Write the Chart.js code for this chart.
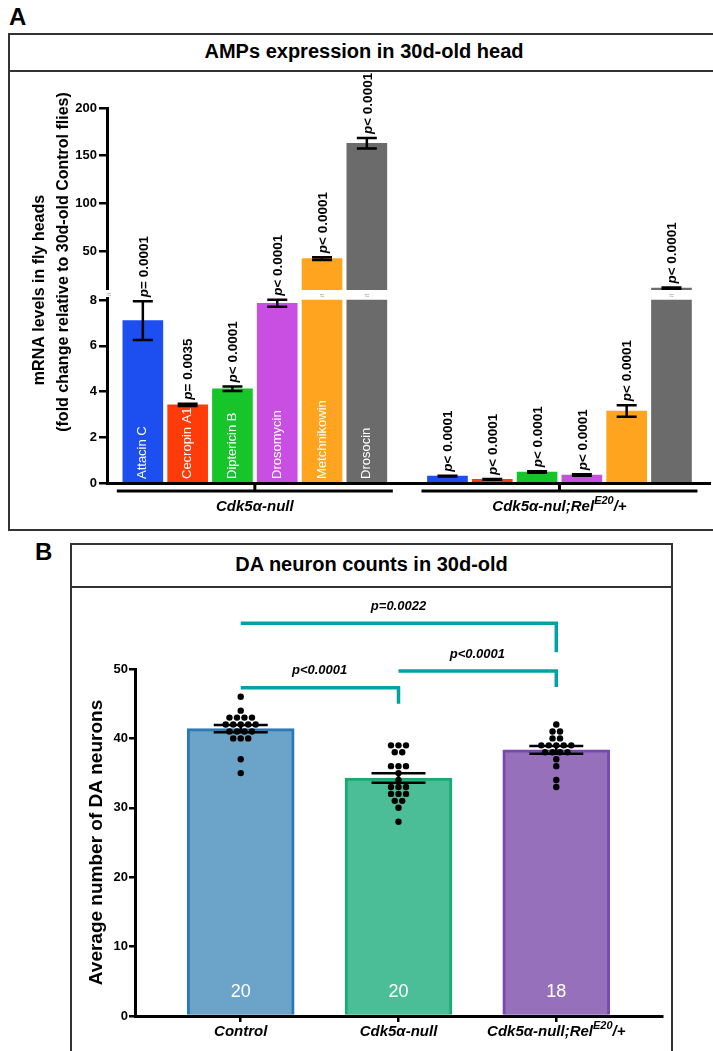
<!DOCTYPE html>
<html>
<head>
<meta charset="utf-8">
<script src="https://cdn.jsdelivr.net/npm/chart.js@4.4.0/dist/chart.umd.min.js"></script>
<style>
  body { margin: 0; width: 713px; height: 1051px; overflow: hidden; background: #fff; position: relative;
         font-family: "Liberation Sans", Arial, sans-serif; }
  .box { position: absolute; border: 2px solid #333; box-sizing: border-box; }
  .head { position: absolute; left: 0; right: 0; top: 0; border-bottom: 2px solid #333; text-align: center;
          font-weight: bold; font-size: 20px; }
  .letter { position: absolute; font-weight: bold; font-size: 24px; }
  canvas { position: absolute; }
</style>
</head>
<body>
<div class="letter" style="left:9px; top:3px;">A</div>
<div class="box" style="left:8px; top:33px; width:712px; height:498px;">
  <div class="head" style="height:35px; line-height:33px;">AMPs expression in 30d-old head</div>
</div>
<div class="letter" style="left:35px; top:538px;">B</div>
<div class="box" style="left:70px; top:543px; width:603px; height:530px;">
  <div class="head" style="height:41px; line-height:39px;">DA neuron counts in 30d-old</div>
</div>
<canvas id="ampChart" width="705" height="462" style="left:8px; top:68px;"></canvas>
<canvas id="daChart" width="602" height="467" style="left:70px; top:584px;"></canvas>

<script>
// ---------- panel A data ----------
const ampNames = ['Attacin C', 'Cecropin A1', 'Diptericin B', 'Drosomycin', 'Metchnikowin', 'Drosocin'];
const ampColors = ['#1c4ef0', '#ff3b0a', '#17c42a', '#c94fe3', '#ffa41f', '#6b6b6b'];
const nullMeans = [7.1, 3.42, 4.12, 7.86, 42, 163];
const nullErrs = [0.85, 0.05, 0.1, 0.15, 1.5, 5.5];
const nullPvals = ['= 0.0001', '= 0.0035', '< 0.0001', '< 0.0001', '< 0.0001', '< 0.0001'];
const relMeans = [0.3, 0.16, 0.48, 0.35, 3.15, 11];
const relErrs = [0.02, 0.02, 0.03, 0.03, 0.25, 0.6];
const relPvals = ['< 0.0001', '< 0.0001', '< 0.0001', '< 0.0001', '< 0.0001', '< 0.0001'];
const groupNamesA = ['Cdk5α-null', 'Cdk5α-nul;Rel^{E20}/+'];
const lowTicks = [0, 2, 4, 6, 8];
const highTicks = [50, 100, 150, 200];
const breakLow = 8;   // lower segment ends here
const breakHigh = 9;  // upper segment starts here

// ---------- panel B data ----------
const genotypes = ['Control', 'Cdk5α-null', 'Cdk5α-null;Rel^{E20}/+'];
const neuronMeans = [41.4, 34.3, 38.35];
const neuronSems = [0.53, 0.69, 0.57];
const controlDots = [46, 44, 43, 43, 43, 43, 42, 42, 42, 42, 42, 41, 41, 41, 41, 40, 40, 40, 37, 35];
const nullDots = [39, 39, 39, 38, 38, 36, 36, 36, 35, 34, 33, 33, 33, 32, 32, 32, 31, 31, 30, 28];
const relDots = [42, 41, 41, 40, 40, 39, 39, 39, 39, 39, 38, 38, 38, 38, 37, 36, 34, 33];
const neuronTicks = [0, 10, 20, 30, 40, 50];
const bracketFrom = [0, 1, 0];
const bracketTo = [1, 2, 2];
const bracketLevel = [47.3, 49.7, 56.6];
const bracketDrop = [45.0, 47.4, 52.4];
const bracketText = ['p<0.0001', 'p<0.0001', 'p=0.0022'];

const FONT = '"Liberation Sans", Arial, sans-serif';
const GAP = 0.8; // extra room between the two genotype groups (in bar slots)

function richText(ctx, str, cx, cy, size, style) {
  // text with ^{...} superscripts, centred at cx
  const parts = str.split(/\^\{|\}/);
  const fonts = parts.map((p, i) => i % 2 ? `${style} ${Math.round(size * 0.7)}px ${FONT}` : `${style} ${size}px ${FONT}`);
  let w = 0;
  parts.forEach((p, i) => { ctx.font = fonts[i]; w += ctx.measureText(p).width; });
  let x = cx - w / 2;
  ctx.textAlign = 'left';
  ctx.textBaseline = 'middle';
  parts.forEach((p, i) => {
    ctx.font = fonts[i];
    ctx.fillText(p, x, i % 2 ? cy - size * 0.38 : cy);
    x += ctx.measureText(p).width;
  });
}

function vText(ctx, txt, x, y, font, color, align) {
  ctx.save();
  ctx.translate(x, y);
  ctx.rotate(-Math.PI / 2);
  ctx.font = font;
  ctx.fillStyle = color;
  ctx.textAlign = align || 'center';
  ctx.textBaseline = 'middle';
  ctx.fillText(txt, 0, 0);
  ctx.restore();
}

// ---------- panel A ----------
const allMeans = nullMeans.concat(relMeans);
const allErrs = nullErrs.concat(relErrs);
const allP = nullPvals.concat(relPvals);
const allColors = ampColors.concat(ampColors);
const xPos = allMeans.map((v, i) => i < ampNames.length ? i : i + GAP);

const lowData = allMeans.map((v, i) => ({ x: xPos[i], y: Math.min(v, breakLow) }));
const highIdx = allMeans.map((v, i) => i).filter(i => allMeans[i] > breakLow);
const highData = highIdx.map(i => ({ x: xPos[i], y: [breakHigh, allMeans[i]] }));

const ampPlugin = {
  id: 'ampExtras',
  afterDatasetsDraw(chart) {
    const ctx = chart.ctx;
    const x = chart.scales.x, lo = chart.scales.yLow, hi = chart.scales.yHigh;
    const area = chart.chartArea;
    ctx.save();

    // axis break
    const gapTop = hi.bottom, gapBot = lo.getPixelForValue(breakLow) - 3;
    ctx.fillStyle = '#fff';
    ctx.fillRect(area.left - 3, gapTop, 6, gapBot - gapTop);
    ctx.fillStyle = '#999';
    ctx.font = `8px ${FONT}`;
    ctx.textAlign = 'center';
    ctx.textBaseline = 'middle';
    const breakY = (gapTop + lo.getPixelForValue(breakLow)) / 2;
    ctx.fillText('≈', area.left + 2, breakY);
    highIdx.forEach(i => ctx.fillText('≈', x.getPixelForValue(xPos[i]), breakY + 1));

    // error bars + p values
    allMeans.forEach((v, i) => {
      const sc = v > breakLow ? hi : lo;
      const cx = x.getPixelForValue(xPos[i]);
      const top = sc.getPixelForValue(v + allErrs[i]);
      const bot = sc.getPixelForValue(v - allErrs[i]);
      ctx.strokeStyle = '#000';
      ctx.lineWidth = 2.5;
      ctx.beginPath();
      ctx.moveTo(cx, top); ctx.lineTo(cx, bot);
      ctx.moveTo(cx - 10, top); ctx.lineTo(cx + 10, top);
      ctx.moveTo(cx - 10, bot); ctx.lineTo(cx + 10, bot);
      ctx.stroke();

      ctx.save();
      ctx.translate(cx + 1, top - 4);
      ctx.rotate(-Math.PI / 2);
      ctx.fillStyle = '#000';
      ctx.textAlign = 'left';
      ctx.textBaseline = 'middle';
      ctx.font = `italic bold 13.5px ${FONT}`;
      ctx.fillText('p', 0, 0);
      const pw = ctx.measureText('p').width;
      ctx.font = `bold 13.5px ${FONT}`;
      ctx.fillText(allP[i], pw, 0);
      ctx.restore();
    });

    // AMP names inside first group
    ampNames.forEach((n, i) => {
      vText(ctx, n, x.getPixelForValue(xPos[i]), lo.getPixelForValue(0) - 4, `13px ${FONT}`, '#fff', 'left');
    });

    // group brackets below axis
    const yb = area.bottom + 8;
    ctx.strokeStyle = '#000';
    ctx.lineWidth = 3;
    ctx.fillStyle = '#000';
    groupNamesA.forEach((g, gi) => {
      const a = x.getPixelForValue(xPos[gi * ampNames.length]) - 26;
      const b = x.getPixelForValue(xPos[gi * ampNames.length + ampNames.length - 1]) + 26;
      const m = (a + b) / 2;
      ctx.beginPath();
      ctx.moveTo(a, yb); ctx.lineTo(b, yb);
      ctx.moveTo(m, area.bottom); ctx.lineTo(m, yb);
      ctx.stroke();
      richText(ctx, g, m, yb + 16, 15, 'italic bold');
    });

    // y title
    vText(ctx, 'mRNA levels in fly heads', 32, 222, `bold 16px ${FONT}`, '#000');
    vText(ctx, '(fold change relative to 30d-old Control flies)', 56, 194, `bold 16px ${FONT}`, '#000');
    ctx.restore();
  }
};

const yCommon = {
  type: 'linear',
  position: 'left',
  stack: 'amp',
  border: { color: '#000', width: 3 },
  grid: { drawOnChartArea: false, drawTicks: true, tickLength: 8, color: '#000', lineWidth: 2.5 },
  ticks: { color: '#000', font: { family: FONT, size: 13, weight: 'bold' }, padding: 2 },
  afterFit: s => { s.width = 99; }
};

new Chart(document.getElementById('ampChart'), {
  type: 'bar',
  data: {
    datasets: [
      { data: lowData, yAxisID: 'yLow', backgroundColor: allColors, barThickness: 40, grouped: false },
      { data: highData, yAxisID: 'yHigh', backgroundColor: highIdx.map(i => allColors[i]), barThickness: 40, grouped: false }
    ]
  },
  options: {
    responsive: false,
    animation: false,
    layout: { padding: { top: 40, right: 3, left: 0, bottom: 0 } },
    plugins: { legend: { display: false }, tooltip: { enabled: false } },
    scales: {
      x: {
        type: 'linear', min: -0.8, max: 12.66, offset: false,
        ticks: { display: false },
        grid: { display: false, offset: false },
        border: { color: '#000', width: 3 },
        afterFit: s => { s.height = 47; }
      },
      yLow: Object.assign({}, yCommon, {
        min: 0, max: 8.44, stackWeight: 193,
        afterBuildTicks: s => { s.ticks = lowTicks.map(v => ({ value: v })); }
      }),
      yHigh: Object.assign({}, yCommon, {
        min: breakHigh, max: 200, stackWeight: 182,
        afterBuildTicks: s => { s.ticks = highTicks.map(v => ({ value: v })); }
      })
    }
  },
  plugins: [ampPlugin]
});

// ---------- panel B ----------
const dotGroups = [controlDots, nullDots, relDots];
const fills = ['#6ba4c8', '#4cbe97', '#9670bb'];
const edges = ['#2a7bb5', '#1aa874', '#7a48ad'];
const TEAL = '#00a3a3';

const daPlugin = {
  id: 'daExtras',
  afterDatasetsDraw(chart) {
    const ctx = chart.ctx;
    const x = chart.scales.x, y = chart.scales.y;
    const area = chart.chartArea;
    ctx.save();

    dotGroups.forEach((vals, gi) => {
      const cx = x.getPixelForValue(gi);
      // dots, spread symmetrically on each value row
      const rows = {};
      vals.forEach(v => { rows[v] = (rows[v] || 0) + 1; });
      ctx.fillStyle = '#000';
      Object.keys(rows).forEach(k => {
        const n = rows[k];
        for (let j = 0; j < n; j++) {
          ctx.beginPath();
          ctx.arc(cx + (j - (n - 1) / 2) * 7.5, y.getPixelForValue(+k), 3.2, 0, Math.PI * 2);
          ctx.fill();
        }
      });
      // SEM
      const t = y.getPixelForValue(neuronMeans[gi] + neuronSems[gi]);
      const b = y.getPixelForValue(neuronMeans[gi] - neuronSems[gi]);
      ctx.strokeStyle = '#000';
      ctx.lineWidth = 2.5;
      ctx.beginPath();
      ctx.moveTo(cx, t); ctx.lineTo(cx, b);
      ctx.moveTo(cx - 27, t); ctx.lineTo(cx + 27, t);
      ctx.moveTo(cx - 27, b); ctx.lineTo(cx + 27, b);
      ctx.stroke();
      // n
      ctx.fillStyle = '#fff';
      ctx.font = `18px ${FONT}`;
      ctx.textAlign = 'center';
      ctx.textBaseline = 'middle';
      ctx.fillText(String(vals.length), cx, area.bottom - 24);
    });

    // significance brackets
    bracketText.forEach((txt, i) => {
      const a = x.getPixelForValue(bracketFrom[i]);
      const b = x.getPixelForValue(bracketTo[i]);
      const ly = y.getPixelForValue(bracketLevel[i]);
      const dy = y.getPixelForValue(bracketDrop[i]);
      ctx.strokeStyle = TEAL;
      ctx.lineWidth = 3.5;
      ctx.lineJoin = 'miter';
      ctx.beginPath();
      ctx.moveTo(a, ly); ctx.lineTo(b, ly); ctx.lineTo(b, dy);
      ctx.stroke();
      ctx.fillStyle = '#000';
      ctx.font = `italic bold 13px ${FONT}`;
      ctx.textAlign = 'center';
      ctx.textBaseline = 'middle';
      ctx.fillText(txt, (a + b) / 2, ly - 17);
    });

    // category labels
    ctx.fillStyle = '#000';
    genotypes.forEach((g, gi) => richText(ctx, g, x.getPixelForValue(gi), area.bottom + 16, 15, 'italic bold'));

    // y title
    vText(ctx, 'Average number of DA neurons', 27, (area.top + area.bottom) / 2, `bold 19px ${FONT}`, '#000');
    ctx.restore();
  }
};

new Chart(document.getElementById('daChart'), {
  type: 'bar',
  data: {
    datasets: [{
      data: neuronMeans.map((v, i) => ({ x: i, y: v })),
      backgroundColor: fills,
      borderColor: edges,
      borderWidth: 3,
      barThickness: 107
    }]
  },
  options: {
    responsive: false,
    animation: false,
    layout: { padding: { top: 85, right: 10, left: 0, bottom: 0 } },
    plugins: { legend: { display: false }, tooltip: { enabled: false } },
    scales: {
      x: {
        type: 'linear', min: -0.67, max: 2.67, offset: false,
        afterBuildTicks: s => { s.ticks = genotypes.map((g, i) => ({ value: i })); },
        ticks: { display: false },
        grid: { drawOnChartArea: false, drawTicks: true, tickLength: 6, color: '#000', lineWidth: 2.5, offset: false },
        border: { color: '#000', width: 3 },
        afterFit: s => { s.height = 35; }
      },
      y: {
        min: 0, max: 50,
        afterBuildTicks: s => { s.ticks = neuronTicks.map(v => ({ value: v })); },
        ticks: { color: '#000', font: { family: FONT, size: 13, weight: 'bold' }, padding: 1 },
        grid: { drawOnChartArea: false, drawTicks: true, tickLength: 6, color: '#000', lineWidth: 2.5 },
        border: { color: '#000', width: 3 },
        afterFit: s => { s.width = 65; }
      }
    }
  },
  plugins: [daPlugin]
});
</script>
</body>
</html>
